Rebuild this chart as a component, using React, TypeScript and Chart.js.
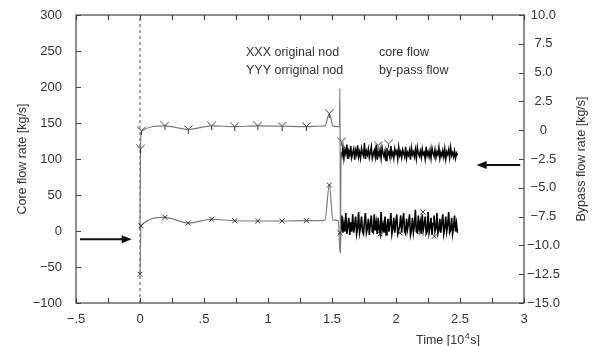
import React, { useEffect, useRef } from "react";
import { Chart, registerables } from "chart.js";
Chart.register(...registerables);

const FONT = "'Liberation Sans', Arial, Helvetica, sans-serif";

// x axis (time, 10^4 s)
const xTickValues = [-0.5, 0, 0.5, 1, 1.5, 2, 2.5, 3];
const xTickLabels = ["\u2212.5", "0", ".5", "1", "1.5", "2", "2.5", "3"];
// left axis (core flow)
const leftTickValues = [-100, -50, 0, 50, 100, 150, 200, 250, 300];
const leftTickLabels = ["\u2212100", "\u221250", "0", "50", "100", "150", "200", "250", "300"];
// right axis (bypass flow)
const rightTickValues = [-15, -12.5, -10, -7.5, -5, -2.5, 0, 2.5, 5, 7.5, 10];
const rightTickLabels = ["\u221215.0", "\u221212.5", "\u221210.0", "\u22127.5", "\u22125.0", "\u22122.5", "0", "2.5", "5.0", "7.5", "10.0"];

// Core flow, smooth part (left axis)
const coreTimes = [0, 0.004, 0.012, 0.195, 0.377, 0.56, 0.74, 0.92, 1.11, 1.3, 1.4, 1.445, 1.479, 1.508, 1.55, 1.558, 1.562, 1.566, 1.57];
const coreValues = [2, 114, 139, 146, 141, 146, 145, 146, 145.5, 145, 145.5, 146, 163, 146, 145, 145, 198, -30, 110];
// Core flow "Y" markers
const coreMarkTimes = [0.004, 0.012, 0.195, 0.377, 0.56, 0.74, 0.92, 1.11, 1.3, 1.479, 1.576, 1.86, 1.94];
const coreMarkValues = [114, 139, 146, 141, 146, 145, 146, 145.5, 145, 163, 124, 119, 121];

// Bypass flow, smooth part (right axis)
const bypassTimes = [0, 0.008, 0.195, 0.377, 0.56, 0.74, 0.92, 1.11, 1.3, 1.4, 1.445, 1.479, 1.508, 1.55, 1.5625, 1.57];
const bypassValues = [-12.5, -8.3, -7.56, -8.06, -7.73, -7.86, -7.88, -7.88, -7.85, -7.85, -7.8, -4.76, -7.8, -7.85, -10.6, -8.7];
// Bypass flow "X" markers
const bypassMarkTimes = [0, 0.008, 0.195, 0.377, 0.56, 0.74, 0.92, 1.11, 1.3, 1.479, 1.5625, 1.875, 2.03, 2.21, 2.3];
const bypassMarkValues = [-12.5, -8.3, -7.56, -8.06, -7.73, -7.86, -7.88, -7.88, -7.85, -4.76, -8.9, -9.0, -8.9, -7.1, -9.2];

// Noisy part after t = 1.57 (sampled every noiseStep up to 2.48)
const noiseStart = 1.57;
const noiseStep = 0.00765;
const coreNoise = [
  110, 104, 116, 101, 113, 107, 120, 100, 111, 105, 118, 102, 109, 114, 99, 112, 106, 119, 103, 110,
  101, 115, 108, 104, 122, 100, 111, 106, 114, 102, 109, 117, 101, 107, 112, 103, 120, 99, 110, 105,
  113, 101, 116, 108, 103, 111, 98, 115, 106, 110, 102, 118, 104, 109, 101, 114, 107, 111, 100, 116,
  105, 110, 102, 113, 108, 103, 117, 101, 109, 105, 112, 99, 115, 106, 110, 103, 113, 101, 116, 108,
  104, 111, 102, 114, 106, 109, 100, 117, 105, 110, 103, 112, 101, 115, 108, 104, 113, 102, 110, 106,
  116, 101, 109, 104, 112, 103, 114, 100, 110, 106, 113, 102, 116, 105, 109, 103, 111, 101, 108, 105,
];
const bypassNoise = [
  -8.7, -7.4, -8.9, -8.1, -8.8, -7.2, -9.0, -8.3, -7.6, -9.1, -8.0, -8.8, -7.3, -8.9, -8.2, -7.5, -9.0, -8.5, -7.1, -8.9,
  -8.4, -7.5, -8.8, -9.0, -7.9, -7.2, -8.9, -8.5, -7.7, -9.1, -8.1, -7.4, -8.8, -8.9, -7.3, -8.7, -8.0, -9.0, -7.6, -8.6,
  -9.0, -7.1, -8.7, -8.2, -8.9, -7.5, -9.1, -8.4, -7.7, -8.8, -8.1, -7.2, -9.0, -8.5, -7.6, -8.9, -8.0, -7.3, -9.0, -8.7,
  -8.3, -7.4, -8.9, -7.9, -7.2, -8.8, -9.0, -7.7, -8.6, -8.1, -7.3, -9.1, -8.7, -7.6, -8.9, -8.3, -6.9, -8.8, -8.9, -7.4,
  -8.6, -8.0, -9.0, -7.3, -8.7, -8.2, -7.5, -9.0, -8.8, -7.1, -8.9, -8.4, -7.6, -9.1, -8.1, -7.4, -8.8, -8.5, -7.2, -9.0,
  -8.7, -7.7, -8.9, -8.0, -7.3, -9.0, -8.5, -7.5, -8.8, -8.2, -7.1, -8.9, -8.7, -7.6, -9.0, -8.4, -7.4, -8.8, -8.1, -8.9,
];

// dashed reference line at t = 0
const refLineTime = 0;

// arrows (data coordinates: time, core flow units)
const arrowFromT = [-0.469, 2.97];
const arrowToT = [-0.065, 2.63];
const arrowLevel = [-11.5, 91.7];

const legendLeft = ["XXX original nod", "YYY orriginal nod"];
const legendRight = ["core flow", "by-pass flow"];

const pts = (t: number[], v: number[]) => t.map((x, i) => ({ x, y: v[i] }));
const noisePts = (v: number[]) => v.map((y, i) => ({ x: noiseStart + i * noiseStep, y }));

function makeYMarker(): HTMLCanvasElement {
  const c = document.createElement("canvas");
  c.width = 9;
  c.height = 9;
  const g = c.getContext("2d")!;
  g.strokeStyle = "#333";
  g.lineWidth = 1;
  g.beginPath();
  g.moveTo(0.5, 0.5);
  g.lineTo(4.5, 4.5);
  g.lineTo(8.5, 0.5);
  g.moveTo(4.5, 4.5);
  g.lineTo(4.5, 9);
  g.stroke();
  return c;
}

const labelFor = (vals: number[], labs: string[]) => (value: any) => {
  const i = vals.findIndex((v) => Math.abs(v - Number(value)) < 1e-6);
  return i >= 0 ? labs[i] : "";
};

const framePlugin = {
  id: "frame",
  afterDraw(chart: any) {
    const { ctx, chartArea: a, scales } = chart;
    ctx.save();
    ctx.strokeStyle = "#444";
    ctx.lineWidth = 1.2;
    ctx.strokeRect(a.left, a.top, a.right - a.left, a.bottom - a.top);
    ctx.beginPath();
    scales.x.ticks.forEach((t: any) => {
      const p = Math.round(scales.x.getPixelForValue(t.value)) + 0.5;
      ctx.moveTo(p, a.bottom);
      ctx.lineTo(p, a.bottom - 5);
      ctx.moveTo(p, a.top);
      ctx.lineTo(p, a.top + 5);
    });
    scales.y.ticks.forEach((t: any) => {
      const p = Math.round(scales.y.getPixelForValue(t.value)) + 0.5;
      ctx.moveTo(a.left, p);
      ctx.lineTo(a.left + 5, p);
    });
    scales.y1.ticks.forEach((t: any) => {
      const p = Math.round(scales.y1.getPixelForValue(t.value)) + 0.5;
      ctx.moveTo(a.right, p);
      ctx.lineTo(a.right - 5, p);
    });
    ctx.stroke();

    // titles
    ctx.fillStyle = "#333";
    ctx.font = `12.5px ${FONT}`;
    ctx.textAlign = "center";
    ctx.textBaseline = "middle";
    const cy = (a.top + a.bottom) / 2;
    ctx.save();
    ctx.translate(23, cy);
    ctx.rotate(-Math.PI / 2);
    ctx.fillText("Core flow rate [kg/s]", 0, 0);
    ctx.restore();
    ctx.save();
    ctx.translate(582, cy);
    ctx.rotate(-Math.PI / 2);
    ctx.fillText("Bypass flow rate [kg/s]", 0, 0);
    ctx.restore();
    ctx.textAlign = "left";
    ctx.textBaseline = "alphabetic";
    // "Time [10^4 s]" with a raised exponent
    let tx = 416;
    const part1 = "Time [10";
    ctx.fillText(part1, tx, 344);
    tx += ctx.measureText(part1).width + 0.5;
    ctx.font = `9px ${FONT}`;
    ctx.fillText("4", tx, 339);
    tx += ctx.measureText("4").width + 0.5;
    ctx.font = `12.5px ${FONT}`;
    ctx.fillText("s]", tx, 344);

    // legend text
    legendLeft.forEach((s, i) => ctx.fillText(s, 246, 56 + i * 17.5));
    legendRight.forEach((s, i) => ctx.fillText(s, 379, 56 + i * 17.5));

    // arrows
    ctx.strokeStyle = "#111";
    ctx.fillStyle = "#111";
    ctx.lineWidth = 2;
    arrowFromT.forEach((f, i) => {
      const x1 = scales.x.getPixelForValue(f);
      const x2 = scales.x.getPixelForValue(arrowToT[i]);
      const y = scales.y.getPixelForValue(arrowLevel[i]);
      const dir = Math.sign(x2 - x1);
      ctx.beginPath();
      ctx.moveTo(x1, y);
      ctx.lineTo(x2 - dir * 8, y);
      ctx.stroke();
      ctx.beginPath();
      ctx.moveTo(x2, y);
      ctx.lineTo(x2 - dir * 10, y - 4);
      ctx.lineTo(x2 - dir * 10, y + 4);
      ctx.closePath();
      ctx.fill();
    });
    ctx.restore();
  },
};

const fixY = (w: number) => (s: any) => {
  s.width = w;
  s.paddingTop = 0;
  s.paddingBottom = 0;
};

export default function App() {
  const ref = useRef<HTMLCanvasElement>(null);
  useEffect(() => {
    if (!ref.current) return;
    const yMarker = makeYMarker();
    const tickFont = { family: FONT, size: 13 };
    const chart = new Chart(ref.current, {
      type: "scatter",
      data: {
        datasets: [
          {
            data: pts(coreMarkTimes, coreMarkValues),
            yAxisID: "y",
            showLine: false,
            pointStyle: yMarker as any,
            pointRadius: 4,
          },
          {
            data: pts(bypassMarkTimes, bypassMarkValues),
            yAxisID: "y1",
            showLine: false,
            pointStyle: "crossRot",
            pointRadius: 3.5,
            borderColor: "#333",
            borderWidth: 1,
          },
          {
            data: pts(coreTimes, coreValues),
            yAxisID: "y",
            showLine: true,
            borderColor: "#7a7a7a",
            borderWidth: 1.2,
            pointRadius: 0,
            cubicInterpolationMode: "monotone",
          },
          {
            data: pts(bypassTimes, bypassValues),
            yAxisID: "y1",
            showLine: true,
            borderColor: "#7a7a7a",
            borderWidth: 1.2,
            pointRadius: 0,
            cubicInterpolationMode: "monotone",
          },
          {
            data: noisePts(coreNoise),
            yAxisID: "y",
            showLine: true,
            borderColor: "#000",
            borderWidth: 1.5,
            pointRadius: 0,
          },
          {
            data: noisePts(bypassNoise),
            yAxisID: "y1",
            showLine: true,
            borderColor: "#000",
            borderWidth: 1.6,
            pointRadius: 0,
          },
          {
            data: [
              { x: refLineTime, y: -100 },
              { x: refLineTime, y: 300 },
            ],
            yAxisID: "y",
            showLine: true,
            borderColor: "#555",
            borderWidth: 1,
            borderDash: [3, 3],
            pointRadius: 0,
          },
        ],
      },
      options: {
        animation: false,
        responsive: false,
        layout: { padding: { top: 15, left: 0, right: 0, bottom: 0 } },
        plugins: { legend: { display: false }, tooltip: { enabled: false } },
        scales: {
          x: {
            type: "linear",
            position: "bottom",
            min: -0.5,
            max: 3,
            grid: { display: false, drawTicks: false },
            border: { display: false },
            ticks: {
              stepSize: 0.25,
              autoSkip: false,
              maxRotation: 0,
              padding: 9,
              color: "#333",
              font: tickFont,
              callback: labelFor(xTickValues, xTickLabels),
            },
            afterFit: (s: any) => {
              s.height = 43;
            },
          },
          y: {
            type: "linear",
            position: "left",
            min: -100,
            max: 300,
            grid: { display: false, drawTicks: false },
            border: { display: false },
            ticks: {
              stepSize: 50,
              autoSkip: false,
              padding: 14,
              color: "#333",
              font: tickFont,
              callback: labelFor(leftTickValues, leftTickLabels),
            },
            afterFit: fixY(76),
          },
          y1: {
            type: "linear",
            position: "right",
            min: -15,
            max: 10,
            grid: { display: false, drawTicks: false },
            border: { display: false },
            ticks: {
              stepSize: 2.5,
              autoSkip: false,
              padding: 3,
              crossAlign: "center",
              color: "#333",
              font: tickFont,
              callback: labelFor(rightTickValues, rightTickLabels),
            },
            afterFit: fixY(69),
          },
        },
      },
      plugins: [framePlugin],
    });
    return () => chart.destroy();
  }, []);
  return (
    <div style={{ position: "fixed", left: 0, top: 0, width: 593, height: 346, background: "#fff" }}>
      <canvas ref={ref} width={593} height={346} />
    </div>
  );
}
